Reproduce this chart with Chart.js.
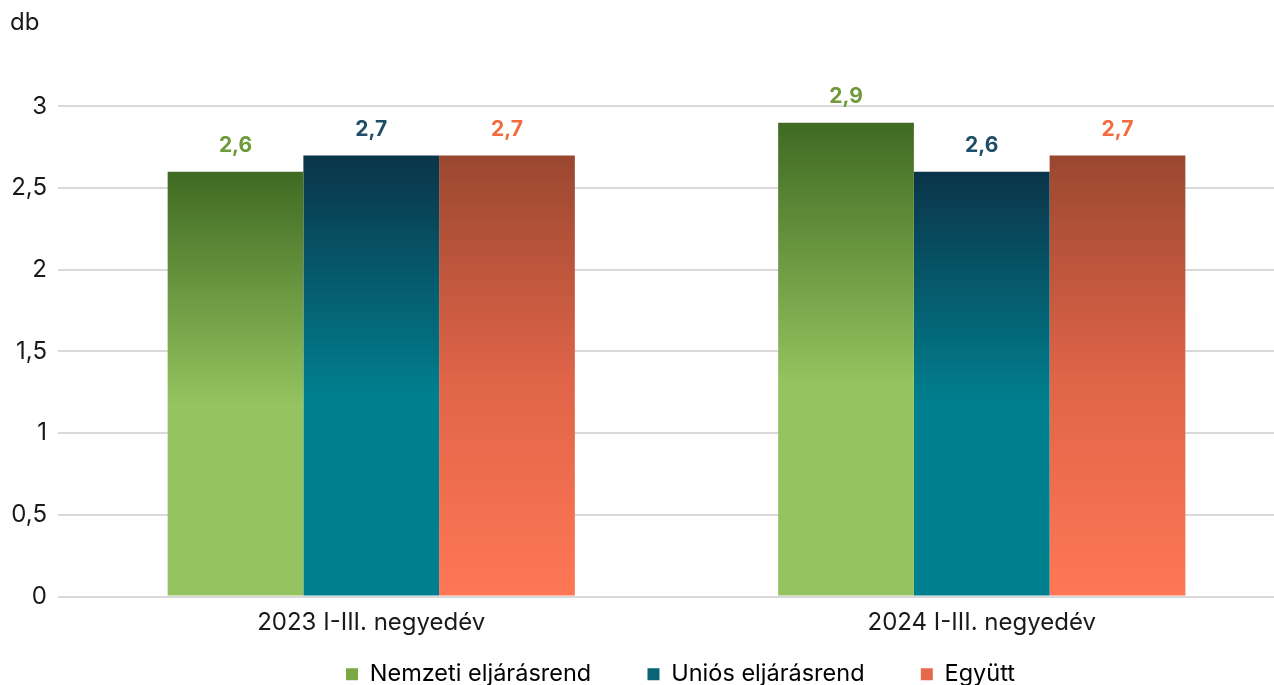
<!DOCTYPE html>
<html>
<head>
<meta charset="utf-8">
<script src="https://cdn.jsdelivr.net/npm/chart.js@4"></script>
<style>
  html, body { margin: 0; padding: 0; background: #fff; overflow: hidden; }
  #wrap { width: 1287px; height: 696px; }
</style>
</head>
<body>
<div id="wrap"><canvas id="chart"></canvas></div>
<script>
const categories = ['2023 I-III. negyedév', '2024 I-III. negyedév'];
const nemzeti = [2.6, 2.9];
const unios = [2.7, 2.6];
const egyutt = [2.7, 2.7];
const seriesNames = ['Nemzeti eljárásrend', 'Uniós eljárásrend', 'Együtt'];
const yTicks = [0, 0.5, 1, 1.5, 2, 2.5, 3];

// gradient stops per series: top colour, middle, bottom
const gradStops = [
    [[0, '#3f6a22'], [0.55, '#95c35f'], [1, '#95c35f']],
    [[0, '#0b3449'], [0.55, '#00808f'], [1, '#00808f']],
    [[0, '#9a4730'], [0.5, '#df6448'], [1, '#ff7755']]
];
const labelColors = ['#6f9a3a', '#1f4e69', '#f26c3f'];
const legendColors = ['#7aa844', '#0a6478', '#e6694b'];
const FONT = 'Inter, "Liberation Sans", sans-serif';

function barGradient(ctx, i) {
    const chart = ctx.chart;
    const area = chart.chartArea;
    if (!area || !chart.scales.y) return gradStops[i][1][1];
    const top = chart.scales.y.getPixelForValue(ctx.raw);
    const bottom = chart.scales.y.getPixelForValue(0);
    const g = chart.ctx.createLinearGradient(0, top, 0, bottom);
    gradStops[i].forEach(s => g.addColorStop(s[0], s[1]));
    return g;
}

const valueLabels = {
    id: 'valueLabels',
    afterDatasetsDraw(chart) {
        const ctx = chart.ctx;
        ctx.save();
        ctx.font = 'bold 21px ' + FONT;
        ctx.textAlign = 'center';
        ctx.textBaseline = 'middle';
        chart.data.datasets.forEach((ds, i) => {
            chart.getDatasetMeta(i).data.forEach((bar, j) => {
                ctx.fillStyle = labelColors[i];
                ctx.fillText(String(ds.data[j]).replace('.', ','), bar.x, bar.y - 26);
            });
        });
        ctx.restore();
    }
};

// legend sits a bit right of centre, "db" a bit in from the edge
const nudge = {
    id: 'nudge',
    afterLayout(chart) {
        chart.legend.left += 37;
        chart.legend.right += 37;
        chart.titleBlock.left += 10;
        chart.titleBlock.right += 10;
    }
};

const ctx = document.getElementById('chart').getContext('2d');
new Chart(ctx, {
    type: 'bar',
    data: {
        labels: categories,
        datasets: [nemzeti, unios, egyutt].map((vals, i) => ({
            label: seriesNames[i],
            data: vals,
            backgroundColor: c => barGradient(c, i),
            borderWidth: 0,
            barPercentage: 1,
            categoryPercentage: 0.667
        }))
    },
    options: {
        responsive: true,
        maintainAspectRatio: false,
        animation: false,
        layout: { padding: 0 },
        plugins: {
            title: {
                display: true,
                text: 'db',
                align: 'start',
                color: '#1a1a1a',
                font: { family: FONT, size: 24, weight: 'normal' },
                padding: { top: 8, bottom: 37 }
            },
            legend: {
                position: 'bottom',
                labels: {
                    color: '#111',
                    boxWidth: 12,
                    boxHeight: 12,
                    padding: 10,
                    font: { family: FONT, size: 23.5 },
                    generateLabels: chart => chart.data.datasets.map((ds, i) => ({
                        text: ds.label + (i < 2 ? '\u00a0'.repeat(7) : ''),
                        fillStyle: legendColors[i],
                        strokeStyle: legendColors[i],
                        lineWidth: 0,
                        datasetIndex: i
                    }))
                }
            },
            tooltip: { enabled: false }
        },
        scales: {
            x: {
                grid: { display: false },
                border: { display: false },
                afterFit: s => { s.height = 56; },
                ticks: {
                    color: '#1a1a1a',
                    padding: 4,
                    font: { family: FONT, size: 24 }
                }
            },
            y: {
                min: 0,
                max: 3.2,
                afterBuildTicks: axis => { axis.ticks = yTicks.map(v => ({ value: v })); },
                afterFit: s => { s.width = 66; },
                grid: { color: '#d9d9d9', lineWidth: 2, drawTicks: true, tickLength: 8, tickColor: '#d9d9d9' },
                border: { display: false },
                ticks: {
                    color: '#1a1a1a',
                    padding: 11,
                    font: { family: FONT, size: 24 },
                    callback: v => String(v).replace('.', ',')
                }
            }
        }
    },
    plugins: [valueLabels, nudge]
});
</script>
</body>
</html>
